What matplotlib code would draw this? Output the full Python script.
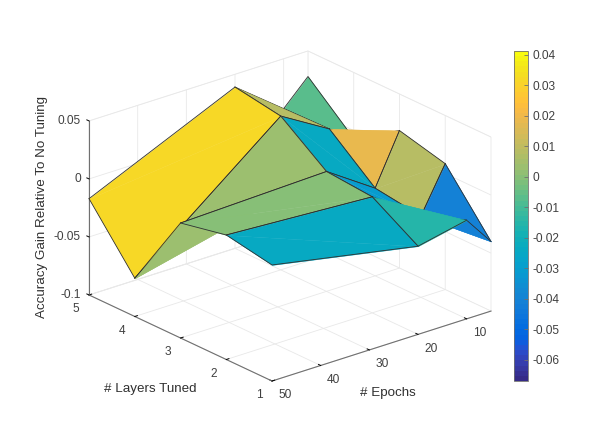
import matplotlib
matplotlib.use("Agg")
import matplotlib.pyplot as plt
from matplotlib.colors import ListedColormap, Normalize
from matplotlib.cm import ScalarMappable
from mpl_toolkits.mplot3d.art3d import Poly3DCollection

plt.rcParams['font.family'] = ['Liberation Sans', 'DejaVu Sans']

epochs = [5, 10, 20, 50]
layers = [1, 2, 3, 4, 5]
# accuracy gain, one list per number of layers tuned (same order as epochs)
gain_l1 = [-0.040, -0.0150, -0.024, 0.000]
gain_l2 = [0.0085, -0.0300, 0.000, 0.0073]
gain_l3 = [0.0185, -0.0245, 0.0033, -0.0009]
gain_l4 = [-0.0069, 0.0080, 0.0325, -0.067]
gain_l5 = [0.0280, 0.0070, 0.0390, -0.017]
gains = [gain_l1, gain_l2, gain_l3, gain_l4, gain_l5]

z_ticks = [-0.1, -0.05, 0, 0.05]
z_labels = ['-0.1', '-0.05', '0', '0.05']
cbar_ticks = [0.04, 0.03, 0.02, 0.01, 0, -0.01, -0.02, -0.03, -0.04, -0.05, -0.06]
cbar_labels = ['0.04', '0.03', '0.02', '0.01', '0', '-0.01', '-0.02', '-0.03', '-0.04', '-0.05', '-0.06']

parula = [
    (0.2081, 0.1663, 0.5292), (0.2116, 0.1898, 0.5777), (0.2123, 0.2138, 0.6270), (0.2081, 0.2386, 0.6771),
    (0.1959, 0.2645, 0.7279), (0.1707, 0.2919, 0.7792), (0.1253, 0.3242, 0.8303), (0.0591, 0.3598, 0.8683),
    (0.0117, 0.3875, 0.8820), (0.0060, 0.4086, 0.8828), (0.0165, 0.4266, 0.8786), (0.0329, 0.4430, 0.8720),
    (0.0498, 0.4586, 0.8641), (0.0629, 0.4737, 0.8554), (0.0723, 0.4887, 0.8467), (0.0779, 0.5040, 0.8384),
    (0.0793, 0.5200, 0.8312), (0.0749, 0.5375, 0.8263), (0.0641, 0.5570, 0.8240), (0.0488, 0.5772, 0.8228),
    (0.0343, 0.5966, 0.8199), (0.0265, 0.6137, 0.8135), (0.0239, 0.6287, 0.8038), (0.0231, 0.6418, 0.7913),
    (0.0228, 0.6535, 0.7768), (0.0267, 0.6642, 0.7607), (0.0384, 0.6743, 0.7436), (0.0590, 0.6838, 0.7254),
    (0.0843, 0.6928, 0.7062), (0.1133, 0.7015, 0.6859), (0.1453, 0.7098, 0.6646), (0.1801, 0.7177, 0.6424),
    (0.2178, 0.7250, 0.6193), (0.2586, 0.7317, 0.5954), (0.3022, 0.7376, 0.5712), (0.3482, 0.7424, 0.5473),
    (0.3953, 0.7459, 0.5244), (0.4420, 0.7481, 0.5033), (0.4871, 0.7491, 0.4840), (0.5300, 0.7491, 0.4661),
    (0.5709, 0.7485, 0.4494), (0.6099, 0.7473, 0.4337), (0.6473, 0.7456, 0.4188), (0.6834, 0.7435, 0.4044),
    (0.7184, 0.7411, 0.3905), (0.7525, 0.7384, 0.3768), (0.7858, 0.7356, 0.3633), (0.8185, 0.7327, 0.3498),
    (0.8507, 0.7299, 0.3360), (0.8824, 0.7274, 0.3217), (0.9139, 0.7258, 0.3063), (0.9450, 0.7261, 0.2886),
    (0.9739, 0.7314, 0.2666), (0.9938, 0.7455, 0.2403), (0.9990, 0.7653, 0.2164), (0.9955, 0.7861, 0.1967),
    (0.9880, 0.8066, 0.1794), (0.9789, 0.8271, 0.1633), (0.9697, 0.8481, 0.1475), (0.9626, 0.8705, 0.1309),
    (0.9589, 0.8949, 0.1132), (0.9598, 0.9218, 0.0948), (0.9661, 0.9514, 0.0755), (0.9763, 0.9831, 0.0538),
]
cmap = ListedColormap(parula)
norm = Normalize(-0.0669, 0.0413)

W, H = 598, 424
fig = plt.figure(figsize=(W / 100, H / 100), dpi=100)

# square axes, the 3d box centre sits at 0.095/0.185 of it
# axes wide enough that the right corner of the surface is not clipped
S = 450
left = 290 - 0.5135 * S
bottom = (H - 216) - 0.5135 * S
ax = fig.add_axes([left / W, bottom / H, S / W, S / H], projection='3d', computed_zorder=False)
ax.set_proj_type('ortho')
ax.set_box_aspect((284, 288, 189), zoom=433 / S)
ax.view_init(elev=22.8, azim=50.5)
ax.set_xlim(5, 50)
ax.set_ylim(5, 1)
ax.set_zlim(-0.1, 0.05)

# draw cell by cell from the far corner, each quad split in two triangles,
# the far triangle goes first so the near one can hide its edges
n = 1
for i in range(len(layers) - 2, -1, -1):
    for j in range(len(epochs) - 1):
        lo_l, hi_l = layers[i], layers[i + 1]
        lo_e, hi_e = epochs[j], epochs[j + 1]
        a = (lo_e, lo_l, gains[i][j])
        b = (hi_e, lo_l, gains[i][j + 1])
        c = (hi_e, hi_l, gains[i + 1][j + 1])
        d = (lo_e, hi_l, gains[i + 1][j])
        col = cmap(norm(gains[i][j]))
        for tri, edge in (([a, c, d], [c, d, a]), ([a, b, c], [a, b, c])):
            poly = Poly3DCollection([tri], facecolors=col, edgecolors=col, linewidths=0.3)
            poly.set_zorder(n)
            ax.add_collection3d(poly, autolim=False)
            xs, ys, zs = zip(*edge)
            ax.plot(xs, ys, zs, color='#303030', lw=0.6, zorder=n + 0.5)
            n += 1

ax.set_xticks([10, 20, 30, 40, 50])
ax.set_yticks(layers)
ax.set_zticks(z_ticks)
ax.set_zticklabels(z_labels)
ax.zaxis.set_ticks_position('upper')
ax.tick_params(axis='both', labelsize=8.6, labelcolor='#404040')
ax.tick_params(axis='x', pad=-2.5)
ax.tick_params(axis='y', pad=2)
ax.tick_params(axis='z', labelsize=8.6, labelcolor='#404040', pad=-4.6)
for t in ax.get_xticklabels():
    t.set_ha('left')
for t in ax.get_yticklabels():
    t.set_va('center')
for t in ax.get_zticklabels():
    t.set_ha('right')
    t.set_va('center')

for axis in (ax.xaxis, ax.yaxis, ax.zaxis):
    axis.set_pane_color((1, 1, 1, 1))
    axis.pane.set_edgecolor('#eeeeee')
    axis.pane.set_linewidth(0.5)
    axis.line.set_color('#707070')
    axis.line.set_linewidth(0.8)
    axis._axinfo['grid'].update(color='#e8e8e8', linewidth=0.6)
    axis._axinfo['tick'].update(inward_factor=0.0, outward_factor=0.15, linewidth={True: 0.7, False: 0.5})
    axis._axinfo['tick']['color'] = '#707070'

fig.text(150 / W, 1 - 389 / H, '# Layers Tuned', fontsize=9.6, color='#303030', ha='center', va='center')
fig.text(388 / W, 1 - 393 / H, '# Epochs', fontsize=9.6, color='#303030', ha='center', va='center')
fig.text(42 / W, 1 - 207 / H, 'Accuracy Gain Relative To No Tuning', fontsize=9.6, color='#303030',
         rotation=90, ha='center', va='center')

cax = fig.add_axes([514 / W, 1 - 381 / H, 14 / W, 330 / H])
cb = fig.colorbar(ScalarMappable(norm=norm, cmap=cmap), cax=cax)
cb.set_ticks(cbar_ticks)
cb.set_ticklabels(cbar_labels)
cb.ax.tick_params(labelsize=8.6, labelcolor='#404040', color='#707070', direction='in', length=3, width=0.6, pad=3)
cb.outline.set_edgecolor('#707070')
cb.outline.set_linewidth(0.6)

fig.savefig('out.png', dpi=100)
